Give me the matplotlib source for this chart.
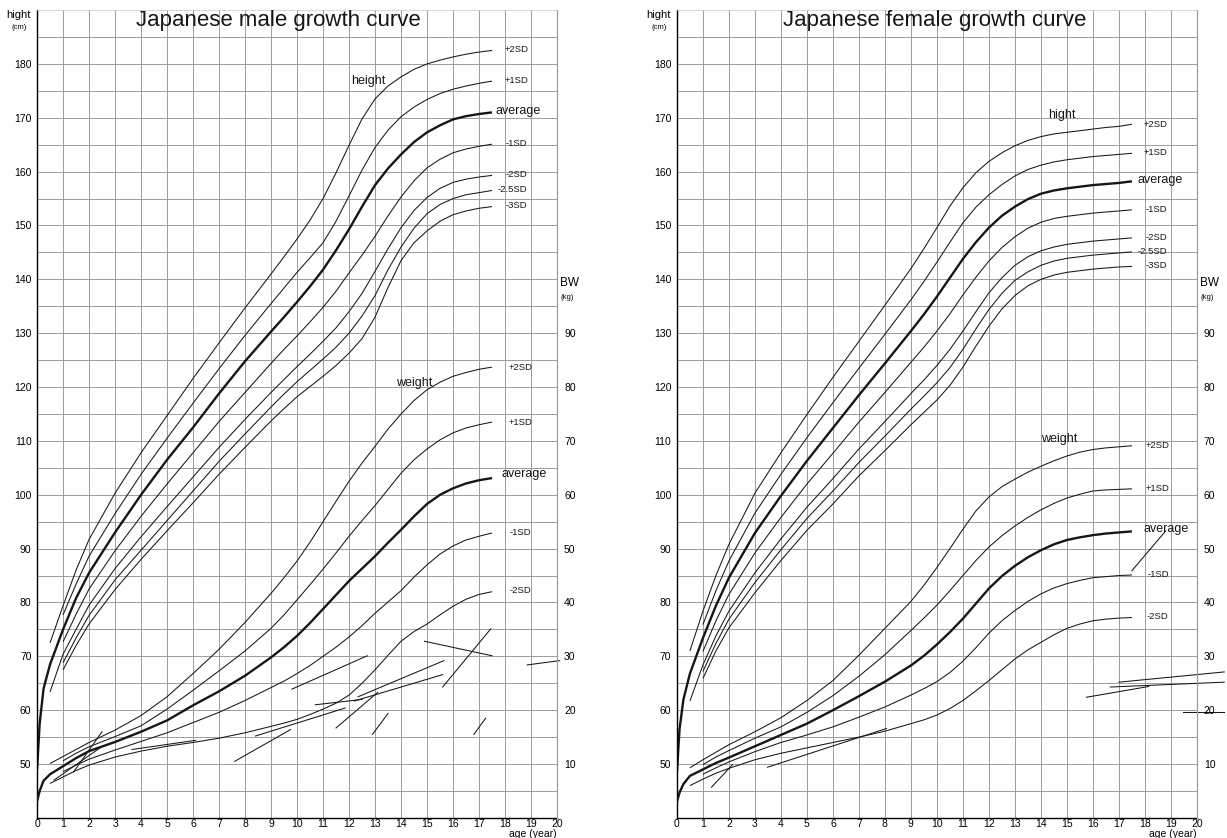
import matplotlib
matplotlib.use('Agg')
import matplotlib.pyplot as plt

plt.rcParams['font.family'] = ['Liberation Sans', 'DejaVu Sans']

# ages used by the curves
ages_0 = [0, 0.1, 0.25, 0.5, 1, 1.5, 2, 3, 4, 5, 6, 7, 8, 9, 9.5, 10, 10.5, 11, 11.5,
          12, 12.5, 13, 13.5, 14, 14.5, 15, 15.5, 16, 16.5, 17, 17.5]
ages_half = [0.5, 1, 1.5, 2, 3, 4, 5, 6, 7, 8, 9, 9.5, 10, 10.5, 11, 11.5,
             12, 12.5, 13, 13.5, 14, 14.5, 15, 15.5, 16, 16.5, 17, 17.5]
ages_1 = [1, 1.5, 2, 3, 4, 5, 6, 7, 8, 9, 9.5, 10, 10.5, 11, 11.5,
          12, 12.5, 13, 13.5, 14, 14.5, 15, 15.5, 16, 16.5, 17, 17.5]

# ---- male height (cm) ----
m_h_avg = [49.0, 57.5, 64.0, 68.5, 75.0, 80.8, 85.5, 93.0, 100.0, 106.5, 112.5, 118.8, 124.8,
           130.3, 133.0, 135.8, 138.7, 141.8, 145.4, 149.3, 153.5, 157.5, 160.6, 163.2, 165.5,
           167.3, 168.6, 169.7, 170.3, 170.7, 171.0]
m_h_p2 = [72.5, 79.4, 86.0, 91.7, 100.3, 107.8, 114.7, 121.6, 128.2, 134.7,
          141.0, 144.2, 147.5, 151.0, 155.0, 159.8, 164.9, 169.8, 173.5, 175.9, 177.6, 179.0,
          180.0, 180.7, 181.3, 181.8, 182.2, 182.5]
m_h_p1 = [77.7, 83.4, 88.6, 96.5, 103.8, 110.5, 117.0, 123.4, 129.6,
          135.5, 138.4, 141.3, 144.0, 146.8, 150.8, 155.5, 160.3, 164.5, 167.7, 170.2, 172.0,
          173.4, 174.5, 175.3, 175.9, 176.4, 176.8]
m_h_m1 = [72.7, 77.8, 82.5, 89.6, 96.0, 102.0, 107.8, 113.6, 119.0,
          124.4, 127.0, 129.5, 132.1, 134.8, 137.8, 141.2, 144.5, 148.0, 151.8, 155.3, 158.3,
          160.7, 162.3, 163.5, 164.2, 164.7, 165.1]
m_h_m2 = [63.4, 70.4, 75.0, 79.5, 86.3, 92.2, 97.8, 103.3, 108.8, 114.0,
          119.0, 121.4, 123.8, 126.1, 128.5, 131.0, 134.0, 137.4, 141.5, 145.7, 149.6, 152.8,
          155.2, 156.9, 158.0, 158.6, 159.0, 159.3]
m_h_m25 = [68.8, 73.4, 77.6, 84.2, 89.7, 95.2, 100.7, 106.2, 111.3,
           116.3, 118.7, 121.0, 123.1, 125.2, 127.4, 130.0, 133.2, 137.0, 141.8, 146.0, 149.5,
           152.2, 153.9, 155.0, 155.7, 156.1, 156.5]
m_h_m3 = [67.5, 72.0, 76.0, 82.4, 88.0, 93.3, 98.5, 103.8, 108.8,
          113.7, 116.0, 118.2, 120.1, 122.0, 124.0, 126.3, 129.0, 133.0, 138.5, 143.5, 146.8,
          149.0, 150.8, 152.0, 152.7, 153.2, 153.5]

# ---- male weight (kg) ----
m_w_avg = [3.1, 5.0, 6.9, 8.1, 9.6, 11.1, 12.4, 14.1, 16.0, 18.1, 20.9, 23.5, 26.4,
           29.8, 31.7, 33.8, 36.2, 38.8, 41.4, 44.0, 46.3, 48.6, 51.1, 53.5, 56.0,
           58.3, 60.0, 61.2, 62.1, 62.7, 63.1]
m_w_p2 = [10.1, 11.4, 12.7, 14.0, 16.3, 19.0, 22.5, 26.8, 31.3, 36.3,
          41.7, 44.6, 47.7, 51.2, 55.0, 58.8, 62.5, 65.9, 69.0, 72.2, 75.0, 77.5,
          79.5, 80.9, 82.0, 82.7, 83.3, 83.7]
m_w_p1 = [10.6, 12.0, 13.2, 15.1, 17.1, 20.2, 23.7, 27.3, 31.0,
          35.2, 37.7, 40.5, 43.3, 46.2, 49.2, 52.3, 55.2, 58.0, 61.0, 64.0, 66.5,
          68.5, 70.2, 71.5, 72.4, 73.0, 73.5]
m_w_m1 = [8.6, 9.8, 10.9, 12.6, 14.2, 15.8, 17.7, 19.6, 21.8,
          24.2, 25.4, 26.8, 28.3, 30.0, 31.7, 33.6, 35.7, 38.0, 40.1, 42.2, 44.7,
          47.0, 49.0, 50.5, 51.6, 52.3, 52.9]
m_w_m2 = [6.4, 7.6, 8.8, 9.8, 11.3, 12.4, 13.3, 14.0, 14.8, 15.8,
          17.0, 17.6, 18.3, 19.2, 20.2, 21.3, 22.8, 25.0, 27.5, 30.2, 32.8, 34.6,
          36.0, 37.7, 39.3, 40.6, 41.5, 42.0]

# ---- female height (cm) ----
f_h_avg = [48.5, 56.5, 62.0, 66.8, 73.4, 79.4, 84.6, 92.9, 99.8, 106.3, 112.4, 118.5, 124.4,
           130.4, 133.5, 136.8, 140.3, 143.8, 146.9, 149.6, 151.8, 153.5, 154.9, 155.9, 156.5,
           156.9, 157.2, 157.5, 157.7, 157.9, 158.2]
f_h_p2 = [71.0, 78.4, 85.0, 90.8, 100.3, 107.8, 114.9, 121.8, 128.5, 135.2,
          142.0, 145.7, 149.6, 153.6, 157.0, 159.8, 161.9, 163.5, 164.8, 165.8, 166.5, 167.0,
          167.3, 167.6, 167.9, 168.2, 168.4, 168.8]
f_h_p1 = [75.9, 82.2, 87.7, 96.6, 103.8, 110.6, 117.1, 123.5, 129.8,
          136.2, 139.6, 143.2, 146.9, 150.5, 153.4, 155.7, 157.6, 159.2, 160.4, 161.2, 161.8,
          162.2, 162.5, 162.8, 163.0, 163.2, 163.4]
f_h_m1 = [70.9, 76.6, 81.5, 89.2, 95.8, 102.0, 107.7, 113.5, 119.0,
          124.6, 127.4, 130.4, 133.6, 137.1, 140.4, 143.4, 145.9, 147.9, 149.5, 150.6, 151.3,
          151.7, 152.0, 152.3, 152.5, 152.7, 152.9]
f_h_m2 = [61.7, 68.4, 73.8, 78.4, 85.5, 91.8, 97.7, 103.0, 108.5, 113.6,
          118.8, 121.3, 124.0, 127.0, 130.4, 134.0, 137.5, 140.3, 142.6, 144.2, 145.3, 146.0,
          146.5, 146.8, 147.1, 147.3, 147.5, 147.7]
f_h_m25 = [67.2, 72.4, 76.9, 83.7, 89.8, 95.6, 100.7, 106.0, 110.9,
           115.9, 118.3, 120.8, 123.6, 127.0, 130.8, 134.4, 137.4, 139.8, 141.4, 142.6, 143.4,
           143.9, 144.2, 144.5, 144.7, 144.9, 145.1]
f_h_m3 = [65.9, 71.0, 75.3, 81.8, 87.8, 93.4, 98.3, 103.5, 108.2,
          113.0, 115.3, 117.6, 120.3, 123.7, 127.6, 131.3, 134.5, 137.0, 138.8, 140.0, 140.8,
          141.3, 141.6, 141.9, 142.1, 142.3, 142.4]

# ---- female weight (kg) ----
f_w_avg = [3.0, 4.7, 6.3, 7.8, 9.0, 10.2, 11.2, 13.3, 15.4, 17.5, 20.0, 22.6, 25.3,
           28.3, 30.1, 32.2, 34.5, 37.0, 39.8, 42.6, 44.9, 46.8, 48.4, 49.7, 50.8,
           51.6, 52.1, 52.5, 52.8, 53.0, 53.2]
f_w_p2 = [9.3, 10.8, 12.2, 13.6, 16.0, 18.6, 21.8, 25.5, 30.2, 35.2,
          40.2, 43.2, 46.5, 50.0, 53.6, 57.0, 59.6, 61.5, 62.9, 64.2, 65.3, 66.3,
          67.2, 67.9, 68.4, 68.7, 68.9, 69.1]
f_w_p1 = [9.9, 11.3, 12.5, 14.8, 16.9, 19.6, 22.7, 26.3, 30.3,
          34.8, 37.1, 39.5, 42.2, 45.0, 47.8, 50.3, 52.4, 54.2, 55.8, 57.2, 58.4,
          59.4, 60.1, 60.7, 60.9, 61.0, 61.1]
f_w_m1 = [8.1, 9.3, 10.4, 12.3, 14.0, 15.4, 16.9, 18.7, 20.6,
          22.8, 24.0, 25.3, 27.0, 29.1, 31.6, 34.3, 36.6, 38.5, 40.2, 41.6, 42.7,
          43.5, 44.1, 44.6, 44.8, 45.0, 45.1]
f_w_m2 = [6.0, 7.2, 8.3, 9.2, 10.8, 12.0, 13.0, 14.0, 15.0, 16.1,
          17.5, 18.2, 19.1, 20.3, 21.8, 23.6, 25.5, 27.5, 29.5, 31.2, 32.6, 34.0,
          35.2, 36.0, 36.6, 36.9, 37.1, 37.2]

# hand-drawn patient strokes on the sheets (age0, cm0, age1, cm1)
m_strokes = [(14.9, 72.8, 17.5, 70.1), (15.6, 64.3, 17.45, 75.1), (18.85, 68.4, 20.1, 69.2),
             (9.8, 63.9, 12.7, 70.1), (12.35, 62.5, 15.65, 69.2), (12.2, 61.7, 15.6, 66.6),
             (10.7, 61.0, 12.5, 62.0), (11.5, 56.7, 13.1, 63.3), (12.9, 55.5, 13.5, 59.4),
             (16.8, 55.5, 17.25, 58.5), (7.6, 50.5, 9.75, 56.4), (8.4, 55.2, 11.85, 60.4),
             (3.65, 52.7, 6.1, 54.4), (1.4, 48.5, 2.5, 56.0), (0.65, 47.0, 2.45, 53.1)]
f_strokes = [(17.0, 65.2, 21.05, 67.1), (16.67, 64.3, 21.05, 65.2), (15.75, 62.4, 18.15, 64.4),
             (19.48, 59.75, 21.05, 59.75), (17.5, 85.9, 18.8, 93.3), (1.33, 45.7, 2.14, 49.9),
             (3.48, 49.4, 8.06, 56.6)]

bw_ticks = [10, 20, 30, 40, 50, 60, 70, 80, 90]

INK = '#161616'
GRID = '#9c9c9c'


def draw_panel(ax, title, h_curves, w_curves, strokes, h_word, h_word_xy, w_word_xy, title_x):
    ax.set_xlim(0, 20)
    ax.set_ylim(40, 190)
    ax.set_xticks(range(0, 21))
    ax.set_yticks(range(50, 181, 10))
    ax.set_yticks(range(45, 190, 5), minor=True)
    ax.grid(which='both', color=GRID, lw=0.7)
    ax.set_axisbelow(True)
    ax.tick_params(which='both', length=0, labelsize=7.5)
    ax.tick_params(axis='x', pad=0.5)
    ax.tick_params(axis='y', pad=4)
    ax.spines['top'].set_color('#c8c8c8')
    ax.spines['top'].set_lw(0.5)
    ax.spines['right'].set_color(GRID)
    ax.spines['left'].set_lw(1.0)
    ax.spines['bottom'].set_lw(1.0)

    ax2 = ax.twinx()
    ax2.set_ylim(0, 150)
    ax2.set_yticks(bw_ticks)
    ax2.tick_params(length=0, labelsize=7.5, pad=5)
    for s in ['top', 'left', 'bottom']:
        ax2.spines[s].set_visible(False)
    ax2.spines['right'].set_color(GRID)

    for (xs, ys, name, lx, ly) in h_curves:
        lw = 1.7 if name == 'average' else 0.75
        ax.plot(xs, ys, color=INK, lw=lw, solid_capstyle='butt', solid_joinstyle='round')
        fs = 9 if name == 'average' else 6.8
        ax.text(lx, ly, name, fontsize=fs, ha='center', va='center', color=INK)
    for (xs, ys, name, lx, ly) in w_curves:
        lw = 1.7 if name == 'average' else 0.75
        ax2.plot(xs, ys, color=INK, lw=lw, solid_capstyle='butt', solid_joinstyle='round')
        fs = 9 if name == 'average' else 6.8
        ax2.text(lx, ly, name, fontsize=fs, ha='center', va='center', color=INK)

    for (x0, y0, x1, y1) in strokes:
        ax.plot([x0, x1], [y0, y1], color=INK, lw=0.75, clip_on=False)

    ax.text(title_x, 188.1, title, fontsize=16, ha='center', va='center', color=INK)
    ax.text(h_word_xy[0], h_word_xy[1], h_word, fontsize=9, ha='center', va='center', color=INK)
    ax.text(w_word_xy[0], w_word_xy[1], 'weight', fontsize=9, ha='center', va='center', color=INK)

    ax.text(-0.035, 0.994, 'hight', transform=ax.transAxes, fontsize=8, ha='center', va='center')
    ax.text(-0.035, 0.978, '(cm)', transform=ax.transAxes, fontsize=5.5, ha='center', va='center')
    ax.text(1.005, 139.3, 'BW', transform=ax.get_yaxis_transform(), fontsize=8.5, ha='left', va='center')
    ax.text(1.007, 136.7, '(kg)', transform=ax.get_yaxis_transform(), fontsize=5.5, ha='left', va='center')
    ax.text(1.0, -0.0195, 'age (year)', transform=ax.transAxes, fontsize=7.5, ha='right', va='center')


fig = plt.figure(figsize=(12.27, 8.38), dpi=100)
axL = fig.add_axes([0.0302, 0.024, 0.4238, 0.964])
axR = fig.add_axes([0.5517, 0.024, 0.4238, 0.964])

m_h = [(ages_half, m_h_p2, '+2SD', 18.45, 182.6), (ages_1, m_h_p1, '+1SD', 18.45, 176.9),
       (ages_0, m_h_avg, 'average', 18.5, 171.25), (ages_1, m_h_m1, '-1SD', 18.45, 165.2),
       (ages_half, m_h_m2, '-2SD', 18.45, 159.4), (ages_1, m_h_m25, '-2.5SD', 18.3, 156.6),
       (ages_1, m_h_m3, '-3SD', 18.45, 153.75)]
m_w = [(ages_half, m_w_p2, '+2SD', 18.6, 83.7), (ages_1, m_w_p1, '+1SD', 18.6, 73.5),
       (ages_0, m_w_avg, 'average', 18.75, 63.9), (ages_1, m_w_m1, '-1SD', 18.6, 52.9),
       (ages_half, m_w_m2, '-2SD', 18.6, 42.3)]
f_h = [(ages_half, f_h_p2, '+2SD', 18.4, 168.8), (ages_1, f_h_p1, '+1SD', 18.4, 163.5),
       (ages_0, f_h_avg, 'average', 18.6, 158.5), (ages_1, f_h_m1, '-1SD', 18.45, 153.0),
       (ages_half, f_h_m2, '-2SD', 18.45, 147.7), (ages_1, f_h_m25, '-2.5SD', 18.3, 145.2),
       (ages_1, f_h_m3, '-3SD', 18.45, 142.5)]
f_w = [(ages_half, f_w_p2, '+2SD', 18.5, 69.1), (ages_1, f_w_p1, '+1SD', 18.5, 61.1),
       (ages_0, f_w_avg, 'average', 18.8, 53.6), (ages_1, f_w_m1, '-1SD', 18.5, 45.25),
       (ages_half, f_w_m2, '-2SD', 18.5, 37.4)]

draw_panel(axL, 'Japanese male growth curve', m_h, m_w, m_strokes, 'height',
           (12.75, 176.8), (14.5, 120.8), 9.3)
draw_panel(axR, 'Japanese female growth curve', f_h, f_w, f_strokes, 'hight',
           (14.8, 170.5), (14.7, 110.3), 9.9)

fig.savefig('out.png', dpi=100)
